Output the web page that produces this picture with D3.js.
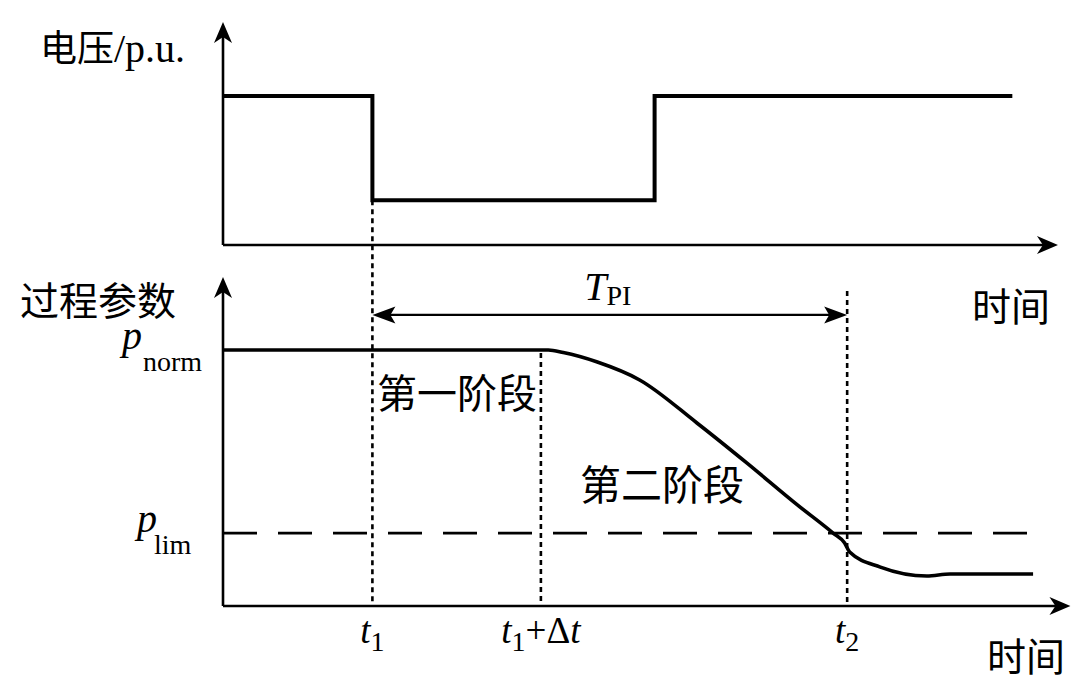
<!DOCTYPE html>
<html>
<head>
<meta charset="utf-8">
<script src="https://cdn.jsdelivr.net/npm/d3@7/dist/d3.min.js"></script>
<style>
  html, body { margin: 0; padding: 0; background: #fff; }
  svg { display: block; }
</style>
</head>
<body>
<svg id="chart" width="1080" height="682"></svg>
<script>
// ---------------- data ----------------
// voltage (p.u.) step profile, top panel
const voltageT = [0, 18, 18, 52, 52, 95.1];
const voltageV = [1, 1, 0.3, 0.3, 1, 1];

// process parameter, bottom panel
const paramT = [0, 39.2, 41.0, 45.1, 50.2, 57.1, 63.1, 69.2, 73.5, 74.9, 75.5, 79.2, 84.8, 87.6, 97.6];
const paramV = [1, 1, 0.99, 0.953, 0.883, 0.715, 0.559, 0.395, 0.285, 0.246, 0.211, 0.152, 0.117, 0.125, 0.125];

// reference levels
const pNorm = 1.0;
const pLim = 0.285;

// time markers
const t1 = 18;
const t1dt = 38.3;
const t2 = 75.2;

// tick labels (parts: [text, style])  style: i = italic, s = subscript, n = normal
const tickLabels = [
  { t: t1,   parts: [["t", "i"], ["1", "s"]] },
  { t: t1dt, parts: [["t", "i"], ["1", "s"], ["+Δ", "n"], ["t", "i"]] },
  { t: t2,   parts: [["t", "i"], ["2", "s"]] }
];
const yLabelsBottom = [
  { v: pNorm, main: "p", sub: "norm" },
  { v: pLim,  main: "p", sub: "lim" }
];
const topYTitle = ["电压", "/p.u."];
const bottomYTitle = "过程参数";
const xTitle = "时间";
const stage1 = "第一阶段";
const stage2 = "第二阶段";
const tpiLabel = ["T", "PI"];

// ---------------- layout ----------------
const svg = d3.select("#chart");
const CJK = "'Noto Sans CJK SC', 'Noto Sans CJK TC', sans-serif";
const SERIF = "'Liberation Serif', 'Times New Roman', serif";

const x = d3.scaleLinear().domain([0, 100]).range([223, 1053]);
const yTop = d3.scaleLinear().domain([0, 1]).range([245, 96]);
const yBot = d3.scaleLinear().domain([0, 1]).range([606, 350]);

const topAxisEnd = 100.6, botAxisEnd = 102.1;
const topYEnd = 1.497, botYEnd = 1.285;

function arrowHead(g, tipX, tipY, angleDeg, L, Wd, N) {
  const p = `M0,0 L${-L},${-Wd} L${-L + N},0 L${-L},${Wd} Z`;
  g.append("path")
    .attr("d", p)
    .attr("transform", `translate(${tipX},${tipY}) rotate(${angleDeg})`)
    .attr("fill", "#000");
}

const g = svg.append("g");

// ---- top panel axes
g.append("line").attr("x1", x(0)).attr("x2", x(0))
  .attr("y1", yTop(0)).attr("y2", yTop(topYEnd) + 8)
  .attr("stroke", "#000").attr("stroke-width", 2.6);
arrowHead(g, x(0), yTop(topYEnd), -90, 21, 9, 6);
g.append("line").attr("x1", x(0)).attr("x2", x(topAxisEnd) - 8)
  .attr("y1", yTop(0)).attr("y2", yTop(0))
  .attr("stroke", "#000").attr("stroke-width", 2.6);
arrowHead(g, x(topAxisEnd), yTop(0), 0, 21, 9, 6);

// ---- bottom panel axes
g.append("line").attr("x1", x(0)).attr("x2", x(0))
  .attr("y1", yBot(0)).attr("y2", yBot(botYEnd) + 8)
  .attr("stroke", "#000").attr("stroke-width", 2.6);
arrowHead(g, x(0), yBot(botYEnd), -90, 21, 9, 6);
g.append("line").attr("x1", x(0)).attr("x2", x(botAxisEnd) - 8)
  .attr("y1", yBot(0)).attr("y2", yBot(0))
  .attr("stroke", "#000").attr("stroke-width", 2.6);
arrowHead(g, x(botAxisEnd), yBot(0), 0, 21, 9, 6);

// ---- dotted marker lines
const dotted = "5,4";
const dotW = 2.6;
g.append("line").attr("x1", x(t1)).attr("x2", x(t1))
  .attr("y1", yTop(0.3)).attr("y2", yBot(0))
  .attr("stroke", "#000").attr("stroke-width", dotW).attr("stroke-dasharray", dotted);
g.append("line").attr("x1", x(t1dt)).attr("x2", x(t1dt))
  .attr("y1", yBot(pNorm) + 3).attr("y2", yBot(0))
  .attr("stroke", "#000").attr("stroke-width", dotW).attr("stroke-dasharray", dotted);
g.append("line").attr("x1", x(t2)).attr("x2", x(t2))
  .attr("y1", yBot(1.23)).attr("y2", yBot(0))
  .attr("stroke", "#000").attr("stroke-width", dotW).attr("stroke-dasharray", dotted);

// ---- p_lim dashed line
g.append("line").attr("x1", x(0)).attr("x2", x(97.3))
  .attr("y1", yBot(pLim)).attr("y2", yBot(pLim))
  .attr("stroke", "#000").attr("stroke-width", 2.8).attr("stroke-dasharray", "34,21");

// ---- voltage line
const vData = voltageT.map((t, i) => [t, voltageV[i]]);
g.append("path")
  .datum(vData)
  .attr("d", d3.line().x(d => x(d[0])).y(d => yTop(d[1])))
  .attr("fill", "none").attr("stroke", "#000").attr("stroke-width", 4)
  .attr("stroke-linejoin", "miter");

// ---- process parameter curve
const pData = paramT.map((t, i) => [t, paramV[i]]);
g.append("path")
  .datum(pData)
  .attr("d", d3.line().x(d => x(d[0])).y(d => yBot(d[1])).curve(d3.curveMonotoneX))
  .attr("fill", "none").attr("stroke", "#000").attr("stroke-width", 3.6);

// ---- T_PI double arrow
const tpiLevel = 1.137;
g.append("line").attr("x1", x(t1) + 10).attr("x2", x(t2) - 10)
  .attr("y1", yBot(tpiLevel)).attr("y2", yBot(tpiLevel))
  .attr("stroke", "#000").attr("stroke-width", 2.2);
arrowHead(g, x(t1), yBot(tpiLevel), 180, 23, 8.5, 5);
arrowHead(g, x(t2), yBot(tpiLevel), 0, 23, 8.5, 5);

const tpi = g.append("text")
  .attr("x", (x(t1) + x(t2)) / 2 - 2).attr("y", yBot(tpiLevel) - 15)
  .attr("text-anchor", "middle").attr("font-family", SERIF).attr("fill", "#000");
tpi.append("tspan").attr("font-style", "italic").attr("font-size", 40).text(tpiLabel[0]);
tpi.append("tspan").attr("font-size", 28).attr("dy", 5).text(tpiLabel[1]);

// ---- tick labels at markers
tickLabels.forEach(tl => {
  const t = g.append("text")
    .attr("x", x(tl.t)).attr("y", yBot(0) + 37)
    .attr("text-anchor", "middle").attr("font-family", SERIF).attr("fill", "#000");
  let shifted = false;
  tl.parts.forEach(([txt, st]) => {
    const sp = t.append("tspan").text(txt);
    if (st === "i") { sp.attr("font-style", "italic").attr("font-size", 37); }
    if (st === "n") { sp.attr("font-size", 37); }
    if (st === "s") { sp.attr("font-size", 28); }
    if (st === "s" && !shifted) { sp.attr("dy", 8); shifted = true; }
    else if (st !== "s" && shifted) { sp.attr("dy", -8); shifted = false; }
  });
});

// ---- bottom y labels
yLabelsBottom.forEach((lb, i) => {
  const t = g.append("text")
    .attr("x", i === 0 ? 122 : 137).attr("y", yBot(lb.v) - 1)
    .attr("font-family", SERIF).attr("fill", "#000");
  t.append("tspan").attr("font-style", "italic").attr("font-size", 40).text(lb.main);
  t.append("tspan").attr("font-size", 28).attr("dx", i === 0 ? 1 : -3).attr("dy", 22).text(lb.sub);
});

// ---- titles
const tt = g.append("text").attr("x", 40).attr("y", 62).attr("fill", "#000");
tt.append("tspan").attr("font-family", CJK).attr("font-size", 37).text(topYTitle[0]);
tt.append("tspan").attr("font-family", SERIF).attr("font-size", 40).text(topYTitle[1]);

g.append("text").attr("x", 20).attr("y", 315)
  .attr("font-family", CJK).attr("font-size", 39).attr("fill", "#000").text(bottomYTitle);

g.append("text").attr("x", 972).attr("y", 321)
  .attr("font-family", CJK).attr("font-size", 39).attr("fill", "#000").text(xTitle);
g.append("text").attr("x", 987).attr("y", 671)
  .attr("font-family", CJK).attr("font-size", 39).attr("fill", "#000").text(xTitle);

g.append("text").attr("x", 377).attr("y", 408)
  .attr("font-family", CJK).attr("font-size", 40).attr("fill", "#000").text(stage1);
g.append("text").attr("x", 580).attr("y", 500)
  .attr("font-family", CJK).attr("font-size", 41).attr("fill", "#000").text(stage2);
</script>
</body>
</html>
